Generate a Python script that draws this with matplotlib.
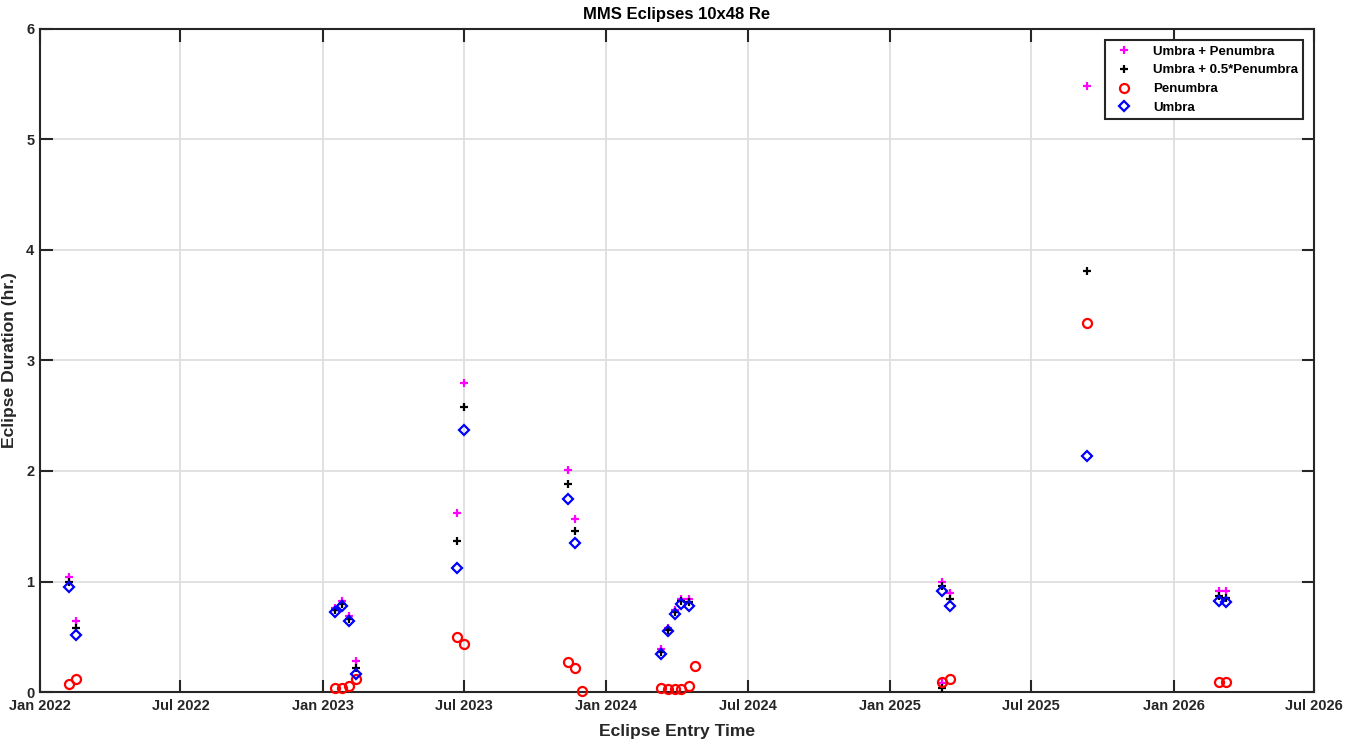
import numpy as np
import pandas as pd
import matplotlib
matplotlib.use("Agg")
import matplotlib.pyplot as plt

plt.rcParams['font.family'] = ['Liberation Sans', 'DejaVu Sans']
plt.rcParams['font.weight'] = 'bold'

nan = np.nan

# Eclipse entry dates
dates = pd.to_datetime([
    "2022-02-07", "2022-02-17",
    "2023-01-16", "2023-01-25", "2023-02-03", "2023-02-12",
    "2023-06-23", "2023-07-02",
    "2023-11-13", "2023-11-22", "2023-12-01",
    "2024-03-11", "2024-03-20", "2024-03-29", "2024-04-06", "2024-04-16", "2024-04-24",
    "2025-03-09", "2025-03-09", "2025-03-19",
    "2025-09-12",
    "2026-03-01", "2026-03-09",
])

umbra = [0.95, 0.52,
         0.72, 0.78, 0.64, 0.16,
         1.12, 2.37,
         1.745, 1.35, nan,
         0.34, 0.55, 0.71, 0.80, 0.78, nan,
         0.91, nan, 0.78,
         2.14,
         0.82, 0.81]

penumbra = [0.075, 0.12,
            0.04, 0.04, 0.05, 0.12,
            0.50, 0.43,
            0.27, 0.22, 0.005,
            0.04, 0.03, 0.03, 0.03, 0.05, 0.235,
            0.09, nan, 0.115,
            3.34,
            0.09, 0.09]

umbra_plus_pen = [1.04, 0.64,
                  0.76, 0.82, 0.69, 0.28,
                  1.62, 2.80,
                  2.01, 1.57, nan,
                  0.39, 0.58, 0.74, 0.84, 0.84, nan,
                  1.00, 0.08, 0.90,
                  5.48,
                  0.915, 0.91]

umbra_plus_half_pen = [1.00, 0.58,
                       0.74, 0.80, 0.665, 0.22,
                       1.37, 2.58,
                       1.88, 1.46, nan,
                       0.36, 0.565, 0.725, 0.82, 0.81, nan,
                       0.955, 0.04, 0.84,
                       3.81,
                       0.865, 0.855]

tick_dates = pd.to_datetime(["2022-01-01", "2022-07-01", "2023-01-01", "2023-07-01",
                             "2024-01-01", "2024-07-01", "2025-01-01", "2025-07-01",
                             "2026-01-01", "2026-07-01"])
tick_labels = ["Jan 2022", "Jul 2022", "Jan 2023", "Jul 2023", "Jan 2024",
               "Jul 2024", "Jan 2025", "Jul 2025", "Jan 2026", "Jul 2026"]
y_ticks = [0, 1, 2, 3, 4, 5, 6]

fig = plt.figure(figsize=(13.67, 7.46), dpi=100)
ax = fig.add_axes([40/1367, 54/746, 1274/1367, 663/746])

ax.grid(True, color='#dedede', linewidth=1.3, zorder=0)
ax.set_axisbelow(True)

ax.plot(dates, umbra_plus_pen, linestyle='none', marker='+', color='magenta',
        markersize=6, markeredgewidth=1.6, label='Umbra + Penumbra', clip_on=False, zorder=3)
ax.plot(dates, umbra_plus_half_pen, linestyle='none', marker='+', color='black',
        markersize=6, markeredgewidth=1.6, label='Umbra + 0.5*Penumbra', clip_on=False, zorder=3)
ax.plot(dates, penumbra, linestyle='none', marker='o', color='red', markerfacecolor='none',
        markersize=6.5, markeredgewidth=1.6, label='Penumbra', clip_on=False, zorder=3)
ax.plot(dates, umbra, linestyle='none', marker='D', color='blue', markerfacecolor='none',
        markersize=5.5, markeredgewidth=1.6, label='Umbra', clip_on=False, zorder=3)

ax.set_xlim(tick_dates[0], tick_dates[-1])
ax.set_ylim(0, 6)
ax.set_xticks(tick_dates)
ax.set_xticklabels(tick_labels)
ax.set_yticks(y_ticks)

for s in ax.spines.values():
    s.set_color('#262626')
    s.set_linewidth(1.5)
ax.tick_params(direction='in', length=9, width=1.5, color='#262626',
               labelsize=10.5, labelcolor='#262626', top=True, right=True, pad=5)
ax.tick_params(axis='y', pad=4)
for lab in ax.get_xticklabels() + ax.get_yticklabels():
    lab.set_fontweight('bold')

ax.set_title('MMS Eclipses 10x48 Re', fontsize=12, fontweight='bold', color='black', pad=7)
ax.set_xlabel('Eclipse Entry Time', fontsize=12.6, fontweight='bold', color='#262626')
ax.xaxis.set_label_coords(0.5, -0.049)
ax.set_ylabel('Eclipse Duration (hr.)', fontsize=12.6, fontweight='bold', color='#262626')
ax.yaxis.set_label_coords(-0.018, 0.5)

leg = ax.legend(loc='upper right', bbox_to_anchor=(0.9914, 0.9834), borderaxespad=0,
                frameon=True, fancybox=False, edgecolor='#262626', framealpha=1,
                handlelength=2.0, handletextpad=1.2, borderpad=0.4, labelspacing=0.5,
                prop={'weight': 'bold', 'size': 9.5})
leg.get_frame().set_linewidth(1.5)

fig.savefig('out.png', dpi=100)
